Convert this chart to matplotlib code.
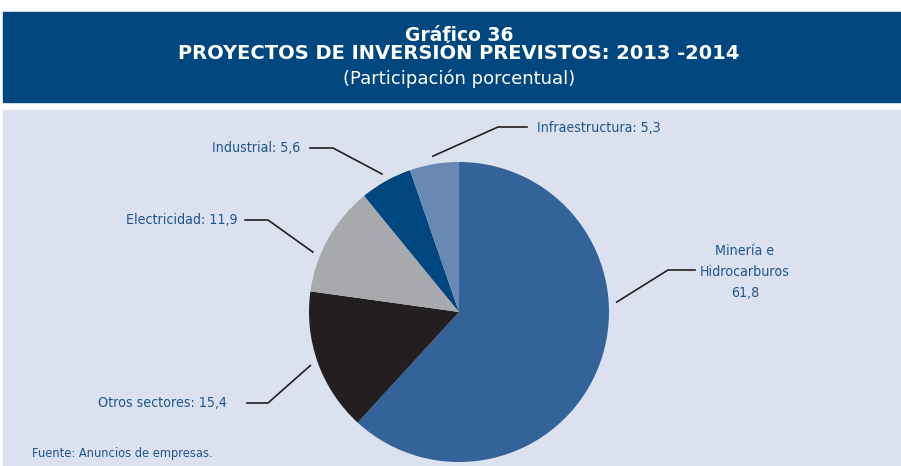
import numpy as np
import matplotlib.pyplot as plt
from matplotlib.patches import Rectangle

sectors = ["Minería e\nHidrocarburos\n61,8", "Otros sectores: 15,4", "Electricidad: 11,9",
           "Industrial: 5,6", "Infraestructura: 5,3"]
shares = [61.8, 15.4, 11.9, 5.6, 5.3]
colors = ["#336398", "#231f20", "#a7a9ac", "#00467f", "#6a88b4"]

W, H = 901, 466
fig = plt.figure(figsize=(W / 100, H / 100), dpi=100)
ax = fig.add_axes([0, 0, 1, 1])
ax.set_xlim(0, W)
ax.set_ylim(0, H)
ax.set_aspect("equal")
ax.axis("off")

narrow = dict(family="DejaVu Sans", stretch="condensed")
text_col = "#1f568f"

# banner and panel
ax.add_patch(Rectangle((3, H - 102), W - 3, 90, color="#00467f", zorder=0))
ax.add_patch(Rectangle((3, 0), W - 3, H - 110, color="#dbe1ee", zorder=0))
ax.text(459, H - 41, "Gráfico 36", color="white", fontsize=13.5, fontweight="bold",
        ha="center", va="baseline", family="DejaVu Sans")
ax.text(459, H - 59, "PROYECTOS DE INVERSIÓN PREVISTOS: 2013 -2014", color="white",
        fontsize=14, fontweight="bold", ha="center", va="baseline", family="DejaVu Sans")
ax.text(459, H - 84, "(Participación porcentual)", color="white", fontsize=13,
        ha="center", va="baseline", family="DejaVu Sans")

cx, cy, r = 459, H - 312, 150
wedges, _ = ax.pie(shares, colors=colors, startangle=90, counterclock=False,
                   center=(cx, cy), radius=r, frame=True,
                   wedgeprops=dict(linewidth=0))
ax.set_xlim(0, W)
ax.set_ylim(0, H)
ax.axis("off")

# leader line layout: anchor angle, elbow (image px), line end (image px), text pos, align
layout = [
    (3.6, (668, 270), (695, 270), (745, 272), "center"),
    (None, (268, 403), (247, 403), (227, 403), "right"),
    (157.7, (268, 220), (245, 220), (237, 220), "right"),
    (None, (333, 148), (310, 148), (300, 148), "right"),
    (None, (498, 127), (527, 127), (537, 128), "left"),
]
for w, lab, (ang, elbow, end, tpos, ha) in zip(wedges, sectors, layout):
    if ang is None:
        ang = (w.theta1 + w.theta2) / 2
    a = np.deg2rad(ang)
    p0 = (cx + 158 * np.cos(a), cy + 158 * np.sin(a))
    xs = [p0[0], elbow[0], end[0]]
    ys = [p0[1], H - elbow[1], H - end[1]]
    ax.plot(xs, ys, color="#231f20", lw=1.2)
    ax.text(tpos[0], H - tpos[1], lab, color=text_col, fontsize=10.2, ha=ha,
            va="center", linespacing=1.65, multialignment="center", **narrow)

ax.text(32, H - 453, "Fuente: Anuncios de empresas.", color=text_col, fontsize=8.3,
        ha="left", va="center")

fig.savefig("out.png", dpi=100, facecolor="white")
